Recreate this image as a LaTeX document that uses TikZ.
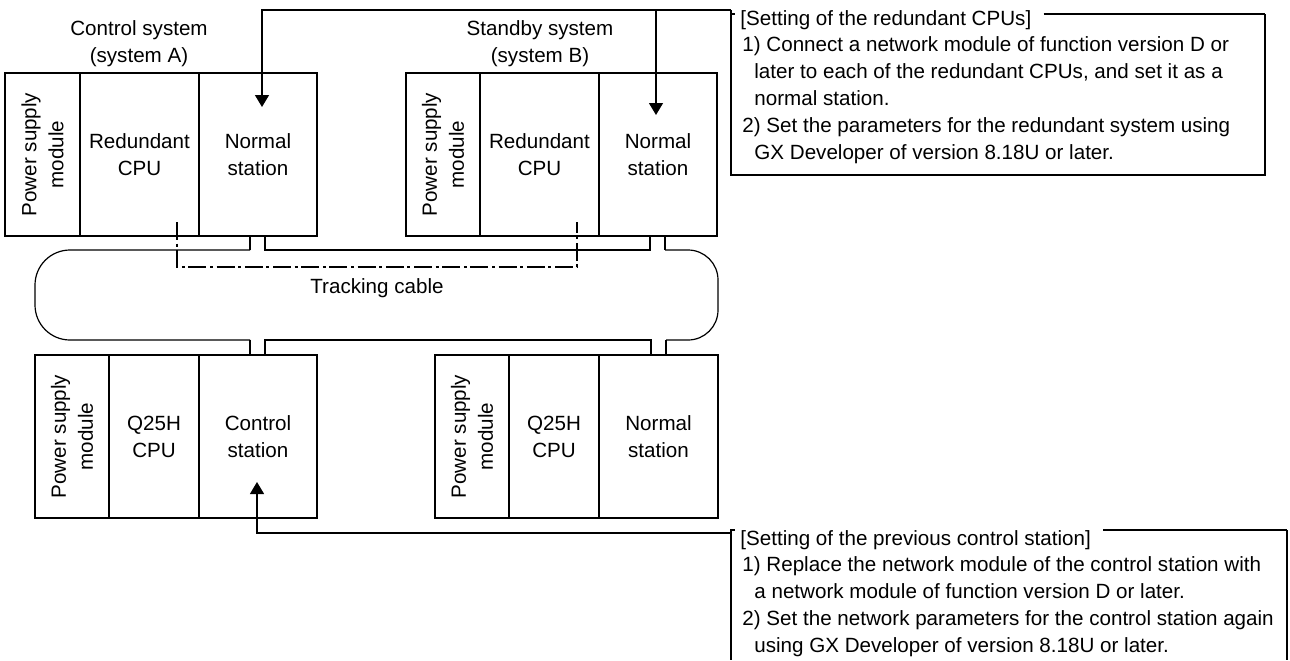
\documentclass[tikz,border=0pt]{standalone}
\usepackage{fontspec}
\setmainfont{Liberation Sans}
\usetikzlibrary{arrows.meta}
\begin{document}
\begin{tikzpicture}[x=0.5pt,y=-0.5pt,
  every node/.style={font=\fontsize{10.3}{13.6}\selectfont, inner sep=0pt},
  modbox/.style={draw, line width=0.8pt, minimum height=81.5pt, align=center},
  psbox/.style={draw, line width=0.8pt, rotate=90, minimum width=81.5pt, align=center},
  cable/.style={line width=0.6pt},
  conn/.style={line width=0.6pt},
  arr/.style={conn, -{Triangle[width=7pt,length=6pt]}},
  track/.style={line width=1.25pt, dash pattern=on 9pt off 1.8pt on 1.5pt off 1.8pt},
  note/.style={anchor=base west},
  callout/.style={line width=0.6pt}]
\useasboundingbox (0,0) rectangle (1290,660);

% system labels
\node[align=center] (lblA) at (139,44) {Control system\\(system A)};
\node[align=center] (lblB) at (540,44) {Standby system\\(system B)};

% top rack A
\node[psbox, minimum height=37.5pt] (psA) at (42.5,154.5) {Power supply\\module};
\node[modbox, minimum width=59.5pt] (cpuA) at (139.5,154.5) {Redundant\\CPU};
\node[modbox, minimum width=59pt] (nsA) at (258,154.5) {Normal\\station};
% top rack B
\node[psbox, minimum height=37pt] (psB) at (443,154.5) {Power supply\\module};
\node[modbox, minimum width=59.5pt] (cpuB) at (539.5,154.5) {Redundant\\CPU};
\node[modbox, minimum width=59pt] (nsB) at (658,154.5) {Normal\\station};
% bottom rack A
\node[psbox, minimum height=37pt] (psC) at (72,436.5) {Power supply\\module};
\node[modbox, minimum width=45pt] (cpuC) at (154,436.5) {Q25H\\CPU};
\node[modbox, minimum width=59pt] (csC) at (258,436.5) {Control\\station};
% bottom rack B
\node[psbox, minimum height=37pt] (psD) at (472,436.5) {Power supply\\module};
\node[modbox, minimum width=45pt] (cpuD) at (554,436.5) {Q25H\\CPU};
\node[modbox, minimum width=59.5pt] (nsD) at (658.5,436.5) {Normal\\station};

% network cable
\draw[cable, rounded corners=17.5pt] (250,250) -- (35,250) -- (35,340) -- (250,340);
\draw[cable] (250,236) -- (250,250);
\draw[cable] (250,340) -- (250,355);
\draw[cable] (265,236) -- (265,250) -- (650,250) -- (650,236);
\draw[cable] (265,355) -- (265,340) -- (651,340) -- (651,355);
\draw[cable, rounded corners=15pt] (665,250) -- (718,250) -- (718,340) -- (666,340);
\draw[cable] (665,236) -- (665,250);
\draw[cable] (666,340) -- (666,355);

% tracking cable
\draw[track] (177,222) -- (177,267) -- (577,267) -- (577,222);
\node[anchor=base] (trk) at (377,293) {Tracking cable};

% top callout
\coordinate (jt) at (731,10);
\coordinate (tA) at (262,107);
\coordinate (tB) at (656,115);
\coordinate (c1) at (1265,14);
\draw[arr] (jt) -| (tA);
\draw[arr] (tB |- jt) -- (tB);
\draw[callout] (jt) -- (731,175) -- (1265,175) -- (c1);
\draw[callout] (731,14) -- (735,14);
\node[note] (h1) at (740,25) {[Setting of the redundant CPUs]};
\coordinate (h1e) at ([xshift=6pt]h1.east);
\draw[callout] (h1e |- c1) -- (c1);
\node[note] (t11) at (742,51.8) {1) Connect a network module of function version D or};
\node[note] (t12) at (754,78.6) {later to each of the redundant CPUs, and set it as a};
\node[note] (t13) at (754,105.4) {normal station.};
\node[note] (t14) at (742,132.2) {2) Set the parameters for the redundant system using};
\node[note] (t15) at (754,159) {GX Developer of version 8.18U or later.};

% bottom callout
\coordinate (jb) at (731,533);
\coordinate (tC) at (257,482);
\coordinate (c2) at (1287,530);
\draw[arr] (jb) -| (tC);
\draw[callout] (735,530) -- (731,530) -- (731,660);
\draw[callout] (c2) -- (1287,660);
\node[note] (h2) at (740,545) {[Setting of the previous control station]};
\coordinate (h2e) at ([xshift=6pt]h2.east);
\draw[callout] (h2e |- c2) -- (c2);
\node[note] (t21) at (742,571.8) {1) Replace the network module of the control station with};
\node[note] (t22) at (754,598.6) {a network module of function version D or later.};
\node[note] (t23) at (742,625.4) {2) Set the network parameters for the control station again};
\node[note] (t24) at (754,652.2) {using GX Developer of version 8.18U or later.};
\end{tikzpicture}
\end{document}
